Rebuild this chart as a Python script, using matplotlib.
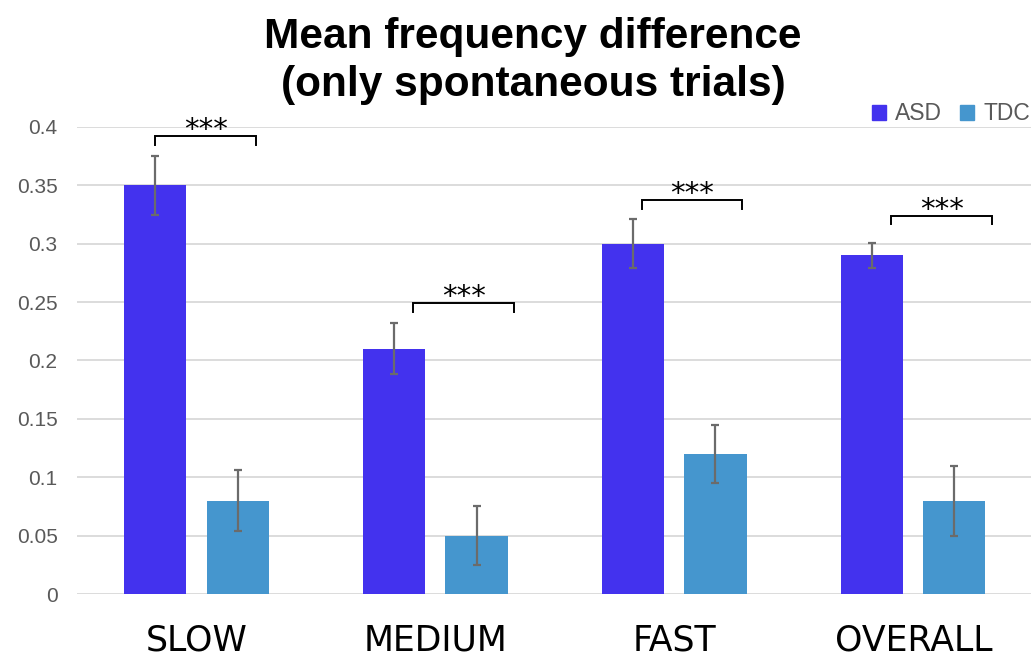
import numpy as np
import matplotlib
matplotlib.use('Agg')
import matplotlib.pyplot as plt
from matplotlib.patches import Patch

categories = ['SLOW', 'MEDIUM', 'FAST', 'OVERALL']
asd = [0.35, 0.21, 0.30, 0.29]
tdc = [0.08, 0.05, 0.12, 0.08]
asd_err = [0.025, 0.022, 0.021, 0.011]
tdc_err = [0.026, 0.025, 0.025, 0.03]

# significance brackets (height, left/right offset from group centre)
sig_y = [0.392, 0.249, 0.3375, 0.324]
sig_left = [-0.172, -0.092, -0.134, -0.092]
sig_right = [0.25, 0.33, 0.285, 0.33]

yticks = [0, 0.05, 0.1, 0.15, 0.2, 0.25, 0.3, 0.35, 0.4]
ytick_labels = ['0', '0.05', '0.1', '0.15', '0.2', '0.25', '0.3', '0.35', '0.4']

c_asd = '#4332EE'
c_tdc = '#4596CE'
grey = '#595959'

plt.rcParams['font.family'] = ['Liberation Sans', 'DejaVu Sans']

fig = plt.figure(figsize=(10.31, 6.56), dpi=100)
ax = fig.add_axes([0.0747, 0.0945, 0.927, 0.712])

x = np.arange(len(categories))
w = 0.26
off = 0.172

ax.bar(x - off, asd, w, color=c_asd, zorder=2)
ax.bar(x + off, tdc, w, color=c_tdc, zorder=2)
ax.errorbar(x - off, asd, yerr=asd_err, fmt='none', ecolor='#6b6b6b',
            elinewidth=1.6, capsize=3, capthick=1.6, zorder=3)
ax.errorbar(x + off, tdc, yerr=tdc_err, fmt='none', ecolor='#6b6b6b',
            elinewidth=1.6, capsize=3, capthick=1.6, zorder=3)

drop = 0.0075
for i in range(len(categories)):
    x0 = x[i] + sig_left[i]
    x1 = x[i] + sig_right[i]
    y = sig_y[i]
    ax.plot([x0, x0, x1, x1], [y - drop, y, y, y - drop], color='black',
            lw=1.4, zorder=4, clip_on=False, solid_joinstyle='miter')
    ax.annotate('***', xy=((x0 + x1) / 2, y), xytext=(0, -1.5),
                textcoords='offset points', ha='center', va='baseline',
                fontsize=21, family='DejaVu Sans', color='black')

ax.set_xlim(-0.5, 3.5)
ax.set_ylim(0, 0.4)
ax.set_yticks(yticks)
ax.set_yticklabels(ytick_labels, color=grey, fontsize=15)
ax.set_xticks(x)
ax.set_xticklabels(categories, fontsize=25, family='DejaVu Sans', color='black')
ax.tick_params(axis='y', length=0, pad=14)
ax.tick_params(axis='x', length=0, pad=21)
ax.grid(axis='y', color='#d9d9d9', lw=1.3, zorder=0)
ax.set_axisbelow(True)
for s in ax.spines.values():
    s.set_visible(False)

handles = [Patch(color=c_asd, label='ASD'), Patch(color=c_tdc, label='TDC')]
fig.legend(handles=handles, loc='center right', bbox_to_anchor=(0.999, 1 - 114 / 656),
           ncol=2, frameon=False, fontsize=16.5, handlelength=0.6, handleheight=0.6,
           handletextpad=0.4, columnspacing=0.8, borderpad=0, borderaxespad=0,
           labelcolor=grey)

fig.text(533 / 1031, 1 - 61 / 656, 'Mean frequency difference\n(only spontaneous trials)',
         ha='center', va='center', fontsize=30.5, fontweight='bold', color='black',
         linespacing=1.28)

fig.savefig('out.png', dpi=100)
